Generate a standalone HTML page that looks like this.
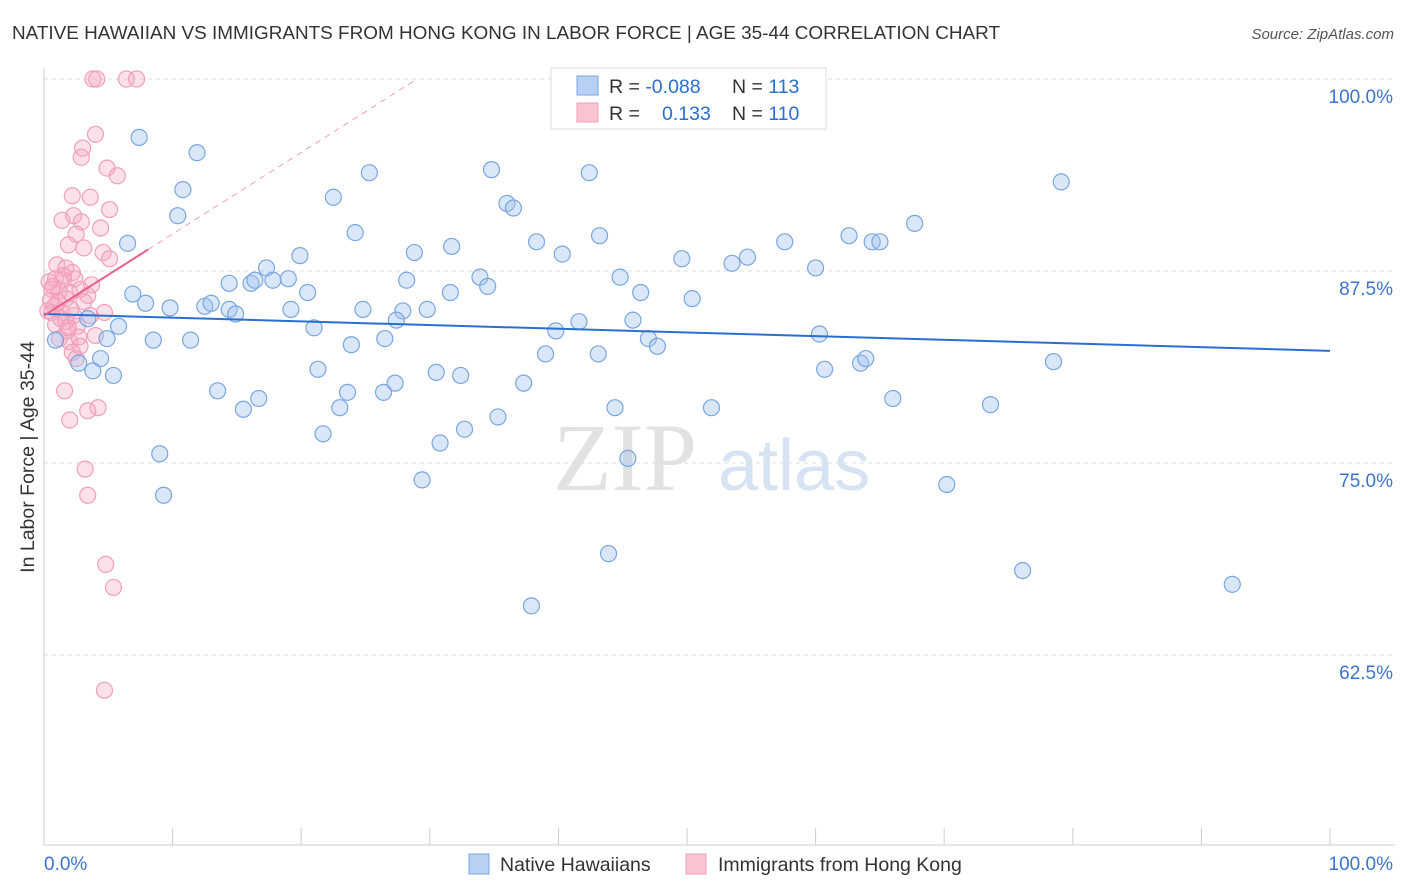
<!DOCTYPE html>
<html><head><meta charset="utf-8"><style>
body{margin:0;background:#fff;width:1406px;height:892px;overflow:hidden;font-family:"Liberation Sans",sans-serif}
svg{display:block}
</style></head><body>
<svg id="chart" width="1406" height="892" xmlns="http://www.w3.org/2000/svg" font-family="Liberation Sans, sans-serif">
<text x="12" y="39" font-size="18" fill="#333" textLength="988" lengthAdjust="spacingAndGlyphs">NATIVE HAWAIIAN VS IMMIGRANTS FROM HONG KONG IN LABOR FORCE | AGE 35-44 CORRELATION CHART</text>
<text x="1394" y="39" font-size="15" fill="#555" font-style="italic" text-anchor="end">Source: ZipAtlas.com</text>
<g>
<text x="553" y="490" font-size="96" font-family="Liberation Serif, serif" fill="#e2e2e2">ZIP</text>
<text x="718" y="490" font-size="72" fill="#d6e3f3">atlas</text>
</g>
<text transform="translate(34,457) rotate(-90)" font-size="19.5" fill="#333" text-anchor="middle">In Labor Force | Age 35-44</text>
<g id="axes"></g>
<g id="marks"></g>
<g>
<rect x="551" y="68" width="275" height="61" fill="#fff" stroke="#ddd"/>
<rect x="577" y="76" width="21" height="19" fill="#b8d0f3" stroke="#7aa6e0"/>
<rect x="577" y="103" width="21" height="19" fill="#f8c4d2" stroke="#f0a0b8"/>
<text x="609" y="93" font-size="19.5" fill="#333">R = <tspan fill="#2a6fd0">-0.088</tspan></text>
<text x="732" y="93" font-size="19.5" fill="#333">N = <tspan fill="#2a6fd0">113</tspan></text>
<text x="609" y="120" font-size="19.5" fill="#333">R = <tspan fill="#2a6fd0" x="662">0.133</tspan></text>
<text x="732" y="120" font-size="19.5" fill="#333">N = <tspan fill="#2a6fd0">110</tspan></text>
</g>
<g>
<rect x="469" y="854" width="20" height="20" fill="#b8d0f3" stroke="#7aa6e0"/>
<text x="500" y="871" font-size="19.5" fill="#333">Native Hawaiians</text>
<rect x="686" y="854" width="20" height="20" fill="#f8c4d2" stroke="#f0a0b8"/>
<text x="718" y="871" font-size="19.5" fill="#333">Immigrants from Hong Kong</text>
</g>
</svg>
<script>
const yTicks=[100,87.5,75,62.5];
const yTickLabels=["100.0%","87.5%","75.0%","62.5%"];
const xTickLabels=["0.0%","100.0%"];
const blueX=[59.3,7.4,11.9,25.3,34.8,42.4,79.1,10.8,22.5,36.0,36.5,10.4,67.7,24.2,43.2,62.6,6.5,38.3,57.6,64.4,65.0,31.7,19.9,28.8,40.3,49.6,53.5,54.7,60.0,17.3,44.8,33.9,19.0,14.4,16.1,16.4,17.8,28.2,34.5,6.9,20.5,31.6,46.4,7.9,9.8,12.5,13.0,14.4,14.9,19.2,24.8,27.9,29.8,50.4,3.4,5.8,21.0,27.4,39.8,41.6,45.8,60.3,0.9,4.9,8.5,11.4,23.9,26.5,47.0,47.7,39.0,43.1,4.4,2.7,3.8,5.4,21.3,30.5,32.4,60.7,63.5,63.9,78.5,37.3,27.3,13.5,23.6,26.4,16.7,15.5,23.0,44.4,51.9,66.0,73.6,35.3,32.7,21.7,30.8,9.0,45.4,29.4,70.2,9.3,43.9,76.1,92.4,37.9];
const blueY=[100,96.2,95.2,93.9,94.1,93.9,93.3,92.8,92.3,91.9,91.6,91.1,90.6,90.0,89.8,89.8,89.3,89.4,89.4,89.4,89.4,89.1,88.5,88.7,88.6,88.3,88.0,88.4,87.7,87.7,87.1,87.1,87.0,86.7,86.7,86.9,86.9,86.9,86.5,86.0,86.1,86.1,86.1,85.4,85.1,85.2,85.4,85.0,84.7,85.0,85.0,84.9,85.0,85.7,84.4,83.9,83.8,84.3,83.6,84.2,84.3,83.4,83.0,83.1,83.0,83.0,82.7,83.1,83.1,82.6,82.1,82.1,81.8,81.5,81.0,80.7,81.1,80.9,80.7,81.1,81.5,81.8,81.6,80.2,80.2,79.7,79.6,79.6,79.2,78.5,78.6,78.6,78.6,79.2,78.8,78.0,77.2,76.9,76.3,75.6,75.3,73.9,73.6,72.9,69.1,68.0,67.1,65.7];
const pinkX=[3.8,4.1,6.4,7.2,4.0,3.0,2.9,4.9,5.7,2.2,3.6,5.1,2.3,1.4,2.9,4.4,2.5,1.9,3.1,4.6,5.1,1.0,1.7,2.2,0.9,1.5,2.4,3.7,0.6,1.2,2.0,2.8,3.4,0.5,1.1,1.7,3.1,0.6,1.4,2.3,3.6,4.7,0.9,1.7,2.6,4.0,1.2,2.0,2.8,2.2,2.5,1.6,4.2,3.4,2.0,3.2,3.4,4.8,5.4,4.7,0.4,0.8,1.3,1.8,2.7,0.3,0.7,1.5,2.1,1.9];
const pinkY=[100,100,100,100,96.4,95.5,94.9,94.2,93.7,92.4,92.3,91.5,91.1,90.8,90.7,90.3,89.9,89.2,89.0,88.7,88.3,87.9,87.7,87.4,87.0,86.9,87.0,86.6,86.3,86.2,86.1,86.3,85.9,85.6,85.5,85.7,85.5,84.8,84.8,84.6,84.6,84.8,84.0,84.2,83.9,83.3,83.1,82.9,82.6,82.2,81.8,79.7,78.6,78.4,77.8,74.6,72.9,68.4,66.9,60.2,86.8,85.2,84.4,83.6,83.2,84.9,86.5,87.2,85.0,83.8];
const blueFit=[84.7,82.3];
const pinkFit=[84.6,88.9];
const X=v=>44+v*12.86, Y=v=>79+(100-v)*15.36;
const NS="http://www.w3.org/2000/svg";
function mk(tag,attrs,parent){const e=document.createElementNS(NS,tag);for(const k in attrs)e.setAttribute(k,attrs[k]);parent.appendChild(e);return e;}
const ax=document.getElementById('axes'), mg=document.getElementById('marks');
yTicks.forEach((t,i)=>{
 const g=mk('line',{x1:44,x2:1395,y1:Y(t),y2:Y(t),stroke:'#ddd','stroke-dasharray':'4,4'},ax);
 
 
 const l=mk('text',{x:1393,y:Y(t)+24,'font-size':19,fill:'#3a74d0','text-anchor':'end'},ax);l.textContent=yTickLabels[i];
 
 
});
const a1=mk('line',{x1:44,x2:44,y1:68,y2:845,stroke:'#ccc'},ax);


const a2=mk('line',{x1:44,x2:1395,y1:845,y2:845,stroke:'#ccc'},ax);


for(let i=0;i<=10;i++){const t=mk('line',{x1:X(i*10),x2:X(i*10),y1:828,y2:845,stroke:'#ccc'},ax);
 
 }
[[0,'start'],[100,'end']].forEach((p,i)=>{const t=mk('text',{x:i?1393:44,y:870,'font-size':19,fill:'#3a74d0','text-anchor':p[1]},ax);t.textContent=xTickLabels[i];
 
 });
pinkX.forEach((x,i)=>{const c=mk('circle',{cx:X(x),cy:Y(pinkY[i]),r:8,fill:'rgba(245,170,195,0.35)',stroke:'#f0a0b8','stroke-width':1.2},mg);
 
 });
blueX.forEach((x,i)=>{const c=mk('circle',{cx:X(x),cy:Y(blueY[i]),r:8,fill:'rgba(160,195,240,0.4)',stroke:'#7aa6e0','stroke-width':1.2},mg);
 
 });
const bl=mk('line',{x1:X(0),y1:Y(blueFit[0]),x2:X(100),y2:Y(blueFit[1]),stroke:'#2a6fd0','stroke-width':2},mg);


const slope=(pinkFit[1]-pinkFit[0])/8.1;
const pd=mk('line',{x1:X(8.1),y1:Y(pinkFit[1]),x2:X(8.1+(100-pinkFit[1])/slope),y2:Y(100),stroke:'#f0a0b8','stroke-width':1,'stroke-dasharray':'6,5'},mg);


const pl=mk('line',{x1:X(0),y1:Y(pinkFit[0]),x2:X(8.1),y2:Y(pinkFit[1]),stroke:'#e8608a','stroke-width':2},mg);


</script>
</body></html>
